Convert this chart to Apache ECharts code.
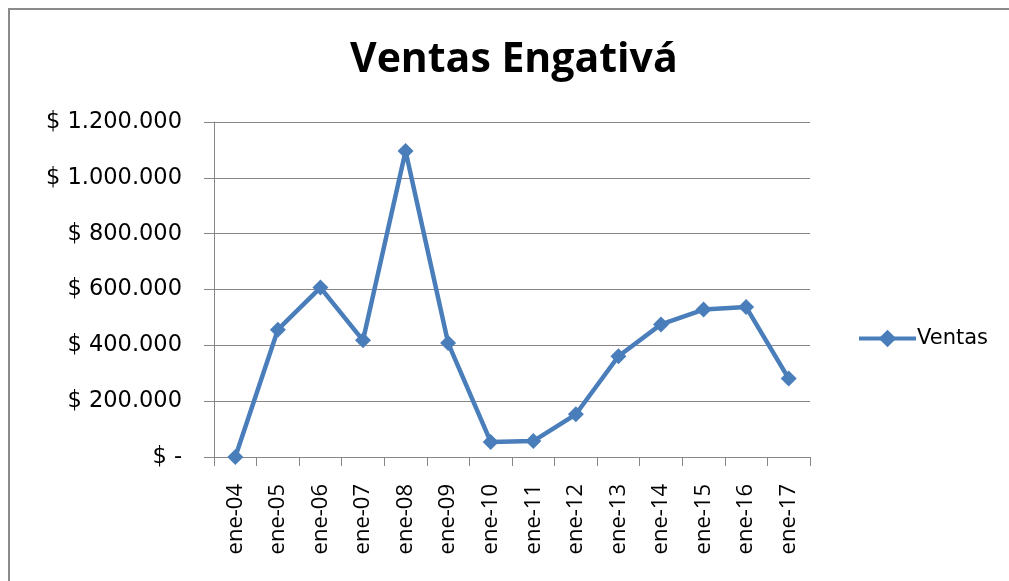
<!DOCTYPE html>
<html>
<head>
<meta charset="utf-8">
<script src="https://cdn.jsdelivr.net/npm/echarts@6/dist/echarts.min.js"></script>
<style>
html,body{margin:0;padding:0;background:#fff;}
#c{width:1009px;height:581px;}
</style>
</head>
<body>
<div id="c"></div>
<script>
const categories = ['ene-04','ene-05','ene-06','ene-07','ene-08','ene-09','ene-10','ene-11','ene-12','ene-13','ene-14','ene-15','ene-16','ene-17'];
const ventas = [0, 456000, 607000, 418000, 1096000, 408000, 54000, 57000, 153000, 361000, 475000, 528000, 537000, 281000];
const yTicks = [0, 200000, 400000, 600000, 800000, 1000000, 1200000];

const FONT = 'Open Sans';
const FONT2 = 'DejaVu Sans';
function fmt(v){
  if (v === 0) return '$ -';
  return '$ ' + String(Math.round(v)).replace(/\B(?=(\d{3})+(?!\d))/g, '.');
}
const chart = echarts.init(document.getElementById('c'), null, {renderer:'canvas'});
chart.setOption({
  animation: false,
  backgroundColor: '#fff',
  graphic: [{
    type: 'rect',
    shape: {x: 9, y: 9, width: 1100, height: 1000},
    style: {fill: 'none', stroke: '#8a8a8a', lineWidth: 2},
    silent: true
  }],
  title: {
    text: 'Ventas Engativá',
    left: 345,
    top: 35,
    textStyle: {fontFamily: FONT, fontWeight: 'bold', fontSize: 41, color: '#000'}
  },
  legend: {
    data: ['Ventas'],
    orient: 'vertical',
    left: 852,
    top: 323,
    itemWidth: 57,
    itemHeight: 22,
    itemGap: 6,
    lineStyle: {width: 4, color: '#4A7EBB'},
    itemStyle: {color: '#4A7EBB'},
    textStyle: {fontFamily: FONT2, fontSize: 21, color: '#000', padding: [0,0,0,-4]}
  },
  grid: {left: 214, right: 199, top: 122, bottom: 124, containLabel: false},
  xAxis: {
    type: 'category',
    data: categories,
    boundaryGap: true,
    axisLine: {lineStyle: {color: '#868686', width: 1}},
    axisTick: {show: true, length: 9, lineStyle: {color: '#868686'}},
    axisLabel: {rotate: 90, margin: 27, fontFamily: FONT, fontSize: 22, color: '#000', interval: 0},
    splitLine: {show: false}
  },
  yAxis: {
    type: 'value',
    min: 0,
    max: 1200000,
    interval: 200000,
    axisLine: {show: true, lineStyle: {color: '#868686', width: 1}},
    axisTick: {show: true, length: 10, lineStyle: {color: '#868686'}},
    axisLabel: {margin: 32, fontFamily: FONT2, fontSize: 22.5, color: '#000', formatter: fmt},
    splitLine: {show: true, lineStyle: {color: '#868686', width: 1}}
  },
  series: [{
    name: 'Ventas',
    type: 'line',
    data: ventas,
    symbol: 'diamond',
    symbolSize: 16,
    lineStyle: {color: '#4A7EBB', width: 4.5},
    itemStyle: {color: '#4A7EBB'}
  }]
});
</script>
</body>
</html>
